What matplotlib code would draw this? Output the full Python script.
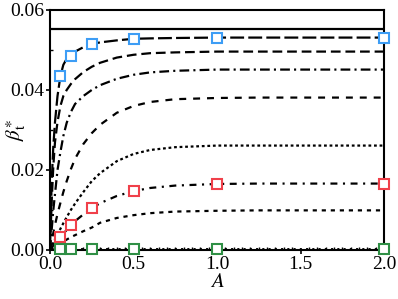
import numpy as np
import matplotlib
matplotlib.use("Agg")
import matplotlib.pyplot as plt
from matplotlib.ticker import MultipleLocator

# -----------------------------
# DATI
# -----------------------------
A = [0, 0.01, 0.02, 0.03, 0.045, 0.0625, 0.08, 0.1, 0.125, 0.15, 0.2,
     0.25, 0.3, 0.4, 0.5, 0.6, 0.75, 1.0, 1.25, 1.5, 2.0]

limite = 0.0553  # linea continua orizzontale

c2 = [0, 0.017, 0.026, 0.032, 0.0385, 0.0435, 0.0463, 0.0478, 0.0487, 0.0496, 0.0507,
      0.0515, 0.0519, 0.0524, 0.0528, 0.0529, 0.0530, 0.0531, 0.0531, 0.0531, 0.0531]
c3 = [0, 0.012, 0.021, 0.027, 0.032, 0.036, 0.0385, 0.040, 0.0415, 0.0427, 0.0445,
      0.0458, 0.0468, 0.0481, 0.0488, 0.0492, 0.0494, 0.0496, 0.0496, 0.0496, 0.0496]
c4 = [0, 0.005, 0.010, 0.014, 0.020, 0.0245, 0.0285, 0.0318, 0.0345, 0.0365, 0.0385,
      0.0400, 0.0412, 0.0428, 0.0438, 0.0444, 0.0448, 0.0451, 0.0451, 0.0451, 0.0451]
c5 = [0, 0.0022, 0.0043, 0.0063, 0.0090, 0.0118, 0.0145, 0.0172, 0.0202, 0.0228, 0.0265,
      0.0292, 0.0313, 0.0343, 0.0360, 0.0370, 0.0377, 0.0380, 0.0381, 0.0381, 0.0381]
c6 = [0, 0.0009, 0.0018, 0.0027, 0.0040, 0.0053, 0.0067, 0.0082, 0.0100, 0.0116, 0.0145,
      0.0172, 0.0192, 0.0222, 0.0240, 0.0250, 0.0257, 0.0261, 0.0261, 0.0261, 0.0261]
c7 = [0, 0.0006, 0.0011, 0.0016, 0.0024, 0.0033, 0.0041, 0.0050, 0.0062, 0.0072, 0.0089,
      0.0104, 0.0117, 0.0135, 0.0147, 0.0155, 0.0161, 0.0165, 0.0166, 0.0166, 0.0166]
c8 = [0, 0.0003, 0.0006, 0.0009, 0.0013, 0.0017, 0.0021, 0.0026, 0.0032, 0.0037, 0.0047,
      0.0056, 0.0068, 0.0080, 0.0087, 0.0092, 0.0096, 0.0098, 0.0099, 0.0099, 0.0099]
c9 = [0] + [0.0002] * 20

A_mk = [0.0625, 0.125, 0.25, 0.5, 1.0, 2.0]
blu = [0.0435, 0.0485, 0.0516, 0.0528, 0.0531, 0.0531]
rosso = [0.0033, 0.0062, 0.0104, 0.0147, 0.0165, 0.0165]
verde = [0.0002] * 6

# -----------------------------
# GRAFICO
# -----------------------------
plt.rcParams["font.family"] = "Liberation Serif"
plt.rcParams["mathtext.fontset"] = "stix"
plt.rcParams["lines.scale_dashes"] = False

fig = plt.figure(figsize=(3.98, 2.99), dpi=100)
ax = fig.add_axes([0.1256, 0.164, 0.8394, 0.8026])

lw = 1.6
ax.axhline(limite, color="black", lw=lw)
ax.plot(A, c2, color="black", lw=lw, dashes=(10, 3))
ax.plot(A, c3, color="black", lw=lw, dashes=(7, 3.5))
ax.plot(A, c4, color="black", lw=lw, dashes=(7, 3, 1.5, 3))
ax.plot(A, c5, color="black", lw=lw, dashes=(5, 5))
ax.plot(A, c6, color="black", lw=lw, dashes=(2, 2))
ax.plot(A, c7, color="black", lw=lw, dashes=(5, 4, 1.5, 4))
ax.plot(A, c8, color="black", lw=lw, dashes=(3, 3.5))
ax.plot(A, c9, color="black", lw=lw, dashes=(1.5, 3))

mk = dict(marker="s", ms=6.5, mfc="white", mew=1.5, ls="none", clip_on=False, zorder=5)
ax.plot(A_mk, blu, mec="#3d9df5", **mk)
ax.plot(A_mk, rosso, mec="#f0404a", **mk)
ax.plot(A_mk, verde, mec="#2f8f45", **mk)

ax.set_xlim(0, 2)
ax.set_ylim(0, 0.06)
ax.set_xticks([0, 0.5, 1.0, 1.5, 2.0])
ax.set_yticks([0, 0.02, 0.04, 0.06])
ax.xaxis.set_minor_locator(MultipleLocator(0.05))
ax.yaxis.set_minor_locator(MultipleLocator(0.01))
ax.tick_params(which="major", direction="out", length=3, width=1.2, labelsize=14, pad=1)
ax.tick_params(which="minor", direction="in", length=2, width=1)
ax.set_xticklabels(["0.0", "0.5", "1.0", "1.5", "2.0"])
ax.set_yticklabels(["0.00", "0.02", "0.04", "0.06"])

for s in ax.spines.values():
    s.set_linewidth(1.5)

ax.set_xlabel(r"$A$", fontsize=15)
ax.xaxis.set_label_coords(0.5, -0.095)
ax.set_ylabel(r"$\beta_{\rm t}^{\ast}$", fontsize=15)
ax.yaxis.set_label_coords(-0.065, 0.5)

fig.savefig("out.png", dpi=100)
